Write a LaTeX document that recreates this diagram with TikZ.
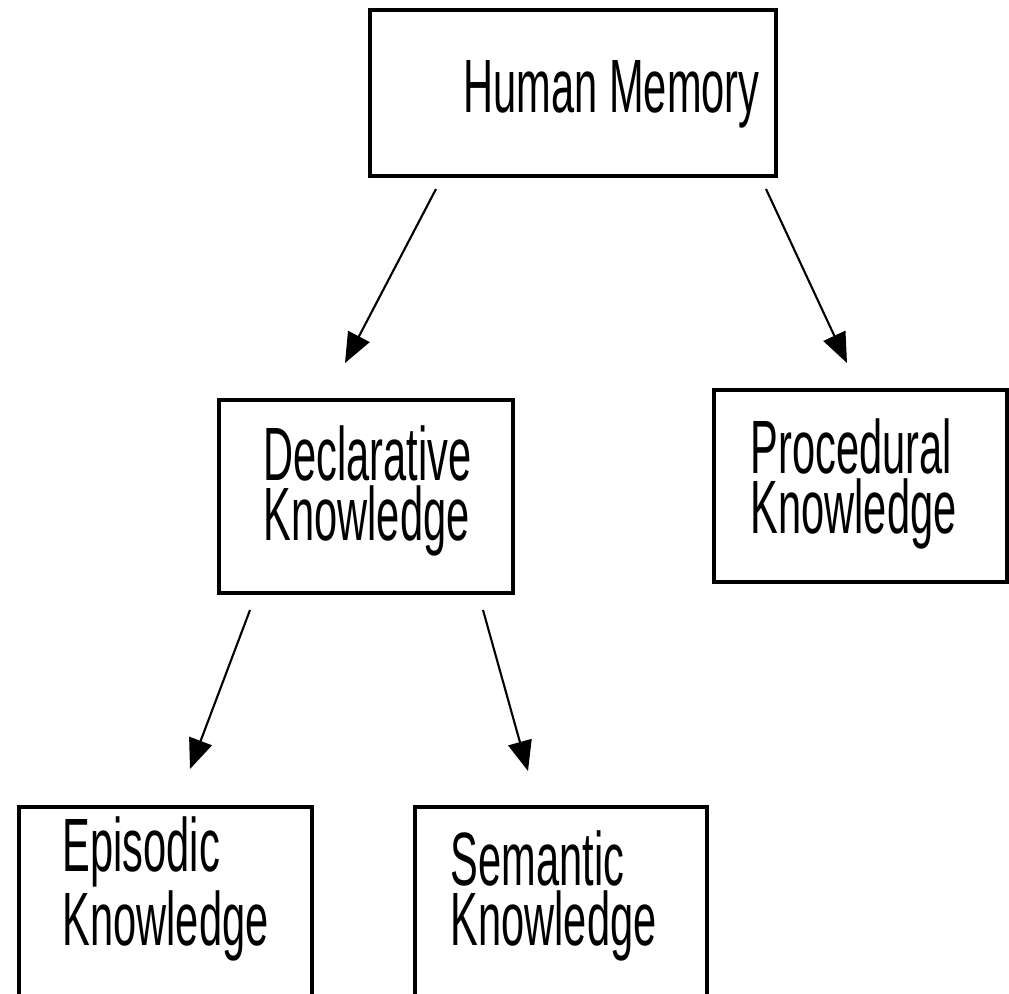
\documentclass[tikz,border=0pt]{standalone}
\usepackage{fontspec}
\setmainfont{Liberation Sans}[FakeStretch=0.55]
\usetikzlibrary{arrows.meta}

\tikzset{
	membox/.style={draw,line width=1pt,anchor=north west,inner sep=0pt},
	memtext/.style={anchor=base west,align=left,inner sep=0pt,
		font=\fontsize{21.5}{17}\selectfont},
	memarrow/.style={-{Triangle[length=0.3cm,width=0.24cm]},line width=0.6pt}
}

\begin{document}
\begin{tikzpicture}[x=0.01cm,y=-0.01cm]
\useasboundingbox (0,0) rectangle (1009,993);
\clip (0,0) rectangle (1009,993);
% boxes
\node[membox,minimum width=4.06cm,minimum height=1.66cm] (hm) at (368,8) {};
\node[membox,minimum width=2.94cm,minimum height=1.93cm] (dk) at (217,398) {};
\node[membox,minimum width=2.93cm,minimum height=1.92cm] (pk) at (712,388) {};
\node[membox,minimum width=2.93cm,minimum height=2.5cm] (ek) at (17,805) {};
\node[membox,minimum width=2.92cm,minimum height=2.5cm] (sk) at (413,805) {};
% labels (base = last line)
\node[memtext] (hm-txt) at (463,112) {Human Memory};
\node[memtext] (dk-txt) at (263,540) {Declarative\\Knowledge};
\node[memtext] (pk-txt) at (750,533) {Procedural\\Knowledge};
\node[memtext] (ek-txt) at (62,945) {Episodic\\Knowledge};
\node[memtext] (sk-txt) at (450,945) {Semantic\\Knowledge};
% arrows
\coordinate (hm-l) at (436,189);
\coordinate (dk-in) at (345,363);
\coordinate (hm-r) at (766,189);
\coordinate (pk-in) at (847,363);
\coordinate (dk-l) at (250,610);
\coordinate (ek-in) at (190,769);
\coordinate (dk-r) at (483,610);
\coordinate (sk-in) at (528,771);
\draw[memarrow] (hm-l) -- (dk-in);
\draw[memarrow] (hm-r) -- (pk-in);
\draw[memarrow] (dk-l) -- (ek-in);
\draw[memarrow] (dk-r) -- (sk-in);
\end{tikzpicture}
\end{document}
